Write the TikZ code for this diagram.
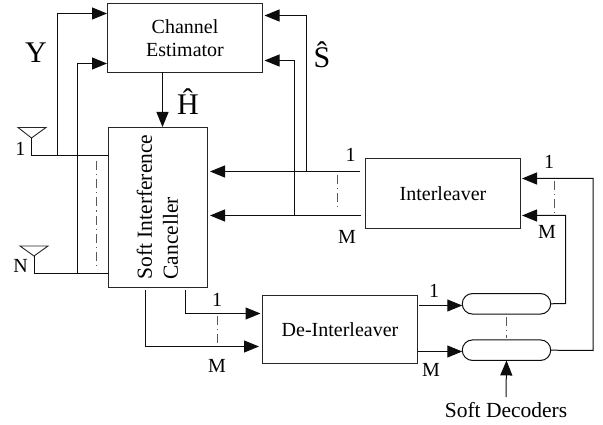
\documentclass[tikz,border=0pt]{standalone}
\usepackage{fontspec}
\setmainfont{Liberation Serif}
\usetikzlibrary{arrows.meta,shapes.misc,calc}
\newcommand{\fs}[1]{\fontsize{#1}{23}\selectfont}
\tikzset{
 x=1pt,y=-1pt,
 wire/.style={line width=1pt,draw=black!95},
 flow/.style={wire,-{Triangle[length=15pt,width=12pt]}},
 block/.style={draw=black!85,line width=1.1pt,inner sep=0pt,outer sep=0pt,align=center,font=\fs{20}},
 decoder/.style={rounded rectangle,draw=black!95,line width=1pt,minimum width=88.5pt,minimum height=20.5pt,inner sep=0pt,outer sep=0pt},
 dots/.style={line width=0.9pt,draw=black!65,dash pattern=on 9pt off 4pt on 1.2pt off 4pt},
 lab/.style={inner sep=0pt,font=\fs{20}},
 big/.style={inner sep=0pt,font=\fs{30}},
 ant/.style={line width=0.9pt,draw=black!85,line join=miter}
}
\begin{document}
\begin{tikzpicture}
\useasboundingbox (0,0) rectangle (603,425);
% blocks
\node[block,minimum width=155pt,minimum height=69pt] (est) at (185,38) {Channel\\Estimator};
\node[block,minimum width=99pt,minimum height=160pt] (sic) at (158,207.5) {};
\node[inner sep=0pt,rotate=90,align=left,font=\fontsize{21.5}{26}\selectfont] (sictext) at (157.5,207) {Soft Interference\\Canceller};
\node[block,minimum width=155pt,minimum height=70pt] (int) at (443,193.5) {Interleaver};
\node[block,minimum width=155pt,minimum height=68pt] (dei) at (340,329.5) {De-Interleaver};
\node[decoder] (d1) at (506.5,303.8) {};
\node[decoder] (dm) at (506.5,350.2) {};
% antennas
\coordinate (a1) at (31.5,138);
\coordinate (an) at (34,256);
\draw[ant] (18,127.5) -- (46,127.5) -- (a1) -- cycle;
\draw[ant] (20,246) -- (48,246) -- (an) -- cycle;
\node[lab] (l1a) at (20.5,149) {1};
\node[lab] (lna) at (20.5,266) {N};
\coordinate (a1b) at (31.5,155.5);
\coordinate (anb) at (34,273.5);
\draw[wire] (a1) -- (a1b) -- (a1b -| sic.west);
\draw[wire] (an) -- (anb) -- (anb -| sic.west);
% Y feeds
\coordinate (y1) at (57.5,155.5);
\coordinate (yn) at (77.5,273.5);
\coordinate (e1) at (107,13.5);
\coordinate (e2) at (107,63.5);
\draw[flow] (y1) |- (e1);
\draw[flow] (yn) |- (e2);
\draw[dots] (96.5,161) -- (96.5,270);
\node[big] (y) at (36,53) {Y};
% H hat
\draw[flow] (162.5,72) -- (162.5,127);
\node[big] (h) at (188,102) {\^H};
% Interleaver to SIC
\coordinate (i1) at (360,171.5);
\coordinate (im) at (361,215.5);
\coordinate (c1) at (210,171.5);
\coordinate (cm) at (210,215.5);
\draw[flow] (i1) -- (c1);
\draw[flow] (im) -- (cm);
\coordinate (s1) at (306.5,171.5);
\coordinate (sm) at (294.5,215.5);
\coordinate (e3) at (264.5,15.5);
\coordinate (e4) at (264.5,60.5);
\draw[flow] (s1) |- (e3);
\draw[flow] (sm) |- (e4);
\node[big] (s) at (322,55) {\^S};
\draw[dots] (337,175) -- (337,209);
\node[lab] (l1i) at (350.5,155) {1};
\node[lab] (lmi) at (347,237) {M};
% Decoder feedback
\coordinate (f1) at (522,178.5);
\coordinate (fm) at (522,215.5);
\coordinate (r1) at (593,350.5);
\coordinate (rm) at (565.5,303.5);
\draw[flow] (dm.east) -- (r1) |- (f1);
\draw[flow] (d1.east) -- (rm) |- (fm);
\draw[dots] (554.5,181) -- (554.5,213);
\node[lab] (l1f) at (549,162) {1};
\node[lab] (lmf) at (547,232) {M};
% De-interleaver to decoders
\coordinate (o1) at (419,305.5);
\coordinate (om) at (417.5,351.5);
\draw[flow] (o1) -- (o1 -| d1.west);
\draw[flow] (om) -- (om -| dm.west);
\node[lab] (l1o) at (434,291) {1};
\node[lab] (lmo) at (431,370) {M};
\draw[dots] (506,317) -- (506,338);
% Soft decoders
\node[inner sep=0pt,font=\fs{21.5}] (sd) at (506,410) {Soft Decoders};
\coordinate (sdt) at (506,397);
\draw[flow] (sdt) -- (dm.south);
% SIC to De-interleaver
\coordinate (b1) at (185.5,290);
\coordinate (bm) at (145.5,290);
\coordinate (t1) at (260.5,313.5);
\coordinate (tm) at (259,346.5);
\draw[flow] (b1) |- (t1);
\draw[flow] (bm) |- (tm);
\draw[dots] (217,316) -- (217,346);
\node[lab] (l1b) at (217,300) {1};
\node[lab] (lmb) at (217,366) {M};
\end{tikzpicture}
\end{document}
